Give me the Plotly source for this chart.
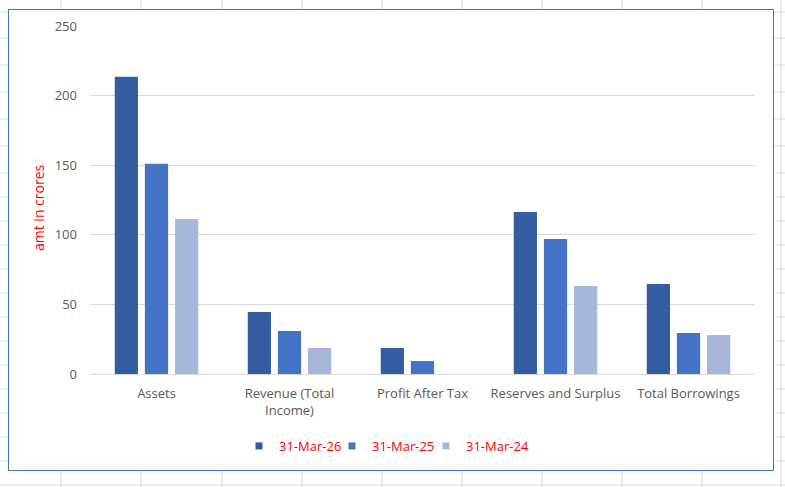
import plotly.graph_objects as go

# ---------------- data ----------------
categories = ["Assets", "Revenue (Total<br>Income)", "Profit After Tax",
              "Reserves and Surplus", "Total Borrowings"]
mar26 = [213.5, 44.5, 18.7, 116.4, 64.7]
mar25 = [151.0, 30.9, 9.3, 97.0, 29.5]
mar24 = [111.4, 18.7, 0.0, 63.2, 28.0]
series_names = ["31-Mar-26", "31-Mar-25", "31-Mar-24"]
y_ticks = [0, 50, 100, 150, 200, 250]

# ---------------- style ----------------
colors = ["#345CA2", "#4472C4", "#A8B6DB"]
FONT = "'Open Sans', sans-serif"
W, H = 785, 487
L, R, T, B = 90, 30, 26, 113
PW, PH = W - L - R, H - T - B


def pxx(x):
    return (x - L) / PW


def pyy(y):
    return (H - B - y) / PH


legend_ids = ["legend", "legend2", "legend3"]
legend_left_px = [239, 332, 426]

fig = go.Figure()
for name, vals, col in zip(series_names, [mar26, mar25, mar24], colors):
    fig.add_trace(go.Bar(x=categories, y=vals, name=name, marker_color=col,
                         marker_line_width=0, showlegend=False))
# legend entries with small square markers
for name, col, lid in zip(series_names, colors, legend_ids):
    fig.add_trace(go.Scatter(x=[None], y=[None], mode="markers", name=name,
                             legend=lid,
                             marker=dict(symbol="square", size=7, color=col)))

shapes = []
# spreadsheet cell grid behind the chart object
sheet_cols = [61, 141, 222, 302, 382, 462, 542, 622, 702, 781]
sheet_rows = [12, 38, 65, 92, 119, 146, 173, 197, 221, 245, 269, 293, 317,
              341, 365, 389, 413, 437, 461, 485]
for cx in sheet_cols:
    shapes.append(dict(type="line", xref="paper", yref="paper", layer="below",
                       x0=pxx(cx), x1=pxx(cx), y0=pyy(0), y1=pyy(H),
                       line=dict(color="#dadada", width=1)))
for ry in sheet_rows:
    shapes.append(dict(type="line", xref="paper", yref="paper", layer="below",
                       x0=pxx(0), x1=pxx(W), y0=pyy(ry), y1=pyy(ry),
                       line=dict(color="#dadada", width=1)))
# chart area with blue border
shapes.append(dict(type="rect", xref="paper", yref="paper", layer="below",
                   x0=pxx(8.5), x1=pxx(773.5), y0=pyy(470.5), y1=pyy(9.5),
                   fillcolor="white", line=dict(color="#4472C4", width=1)))

legend_style = dict(orientation="h", y=pyy(446), yanchor="middle",
                    xanchor="left", font=dict(color="#FF0000", size=13),
                    bgcolor="rgba(0,0,0,0)", itemwidth=30, borderwidth=0)

fig.update_layout(
    width=W, height=H,
    margin=dict(l=L, r=R, t=T, b=B),
    paper_bgcolor="white",
    plot_bgcolor="rgba(0,0,0,0)",
    font=dict(family=FONT, size=13, color="#595959"),
    barmode="group",
    bargap=0.32,
    bargroupgap=0.23,
    shapes=shapes,
    annotations=[dict(text="amt in crores", xref="paper", yref="paper",
                      x=pxx(38), y=pyy(208), textangle=-90, showarrow=False,
                      font=dict(color="#FF0000", size=14, family=FONT),
                      xanchor="center", yanchor="middle")],
)
for lid, lx in zip(legend_ids, legend_left_px):
    fig.update_layout({lid: dict(legend_style, x=pxx(lx))})

fig.update_yaxes(range=[0, 250], tickvals=y_ticks, showgrid=True,
                 gridcolor="#d9d9d9", gridwidth=1, zeroline=True,
                 zerolinecolor="#d9d9d9", zerolinewidth=1, showline=False,
                 ticks="", ticklabelstandoff=12,
                 tickfont=dict(size=13, color="#595959"))
fig.update_xaxes(showgrid=False, showline=False, ticks="",
                 ticklabelstandoff=10,
                 tickfont=dict(size=13, color="#595959"))

fig.write_html("out.html")
